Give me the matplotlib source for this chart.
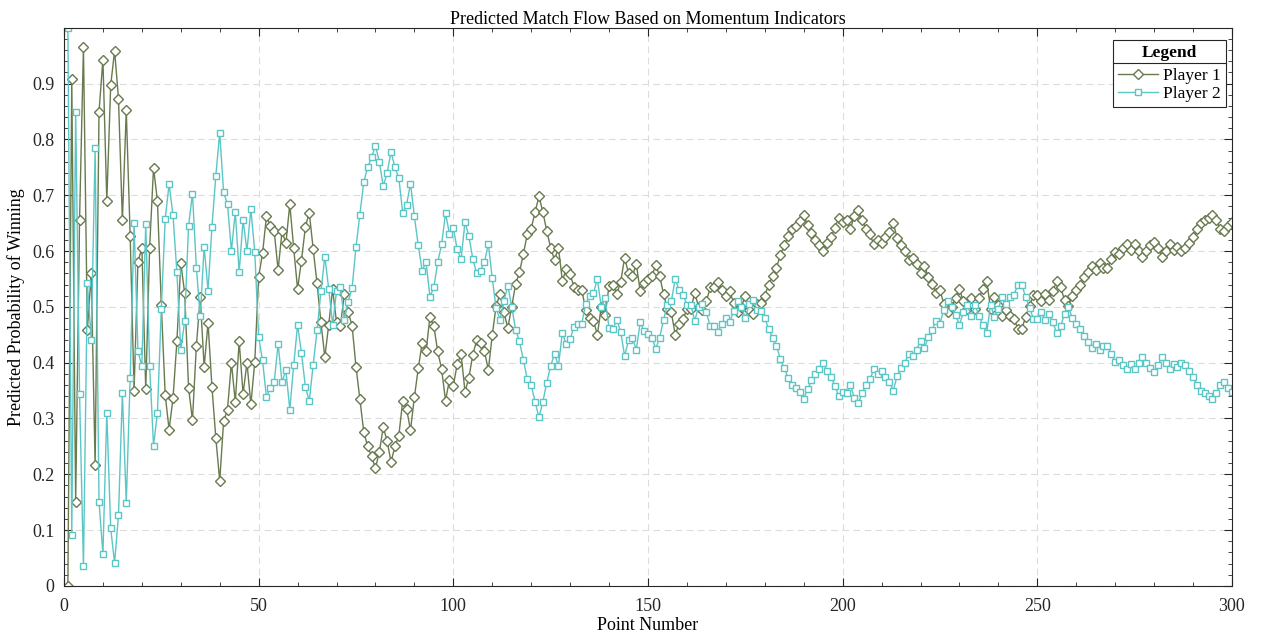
import numpy as np
import matplotlib
matplotlib.use('Agg')
import matplotlib.pyplot as plt
from matplotlib.ticker import MultipleLocator
from matplotlib.lines import Line2D

plt.rcParams['font.family'] = ['Liberation Serif', 'DejaVu Serif']

title = 'Predicted Match Flow Based on Momentum Indicators'
x_label = 'Point Number'
y_label = 'Predicted Probability of Winning'
series_names = ['Player 1', 'Player 2']

# point numbers 1..300
points = np.arange(1, 301)

player1 = [
    0.000, 0.909, 0.150, 0.656, 0.965, 0.458, 0.560, 0.216, 0.850, 0.943,
    0.690, 0.897, 0.959, 0.873, 0.655, 0.852, 0.627, 0.350, 0.580, 0.606,
    0.352, 0.606, 0.749, 0.690, 0.503, 0.342, 0.280, 0.336, 0.438, 0.578,
    0.525, 0.355, 0.297, 0.430, 0.517, 0.392, 0.471, 0.357, 0.265, 0.188,
    0.295, 0.316, 0.400, 0.330, 0.438, 0.344, 0.400, 0.325, 0.401, 0.554,
    0.596, 0.662, 0.645, 0.635, 0.566, 0.635, 0.614, 0.684, 0.605, 0.532,
    0.583, 0.643, 0.669, 0.604, 0.542, 0.472, 0.410, 0.468, 0.532, 0.472,
    0.465, 0.523, 0.491, 0.466, 0.393, 0.335, 0.276, 0.250, 0.232, 0.211,
    0.240, 0.284, 0.260, 0.222, 0.250, 0.269, 0.331, 0.317, 0.279, 0.338,
    0.390, 0.435, 0.420, 0.482, 0.465, 0.420, 0.388, 0.332, 0.369, 0.359,
    0.397, 0.415, 0.348, 0.373, 0.414, 0.440, 0.435, 0.420, 0.387, 0.449,
    0.502, 0.523, 0.490, 0.462, 0.500, 0.541, 0.562, 0.595, 0.630, 0.640,
    0.670, 0.698, 0.670, 0.636, 0.606, 0.584, 0.606, 0.547, 0.567, 0.558,
    0.536, 0.530, 0.530, 0.495, 0.480, 0.475, 0.450, 0.500, 0.485, 0.538,
    0.540, 0.523, 0.545, 0.588, 0.560, 0.555, 0.577, 0.528, 0.543, 0.549,
    0.555, 0.575, 0.555, 0.523, 0.496, 0.490, 0.450, 0.470, 0.478, 0.496,
    0.496, 0.525, 0.500, 0.495, 0.510, 0.535, 0.535, 0.545, 0.530, 0.520,
    0.528, 0.507, 0.490, 0.500, 0.520, 0.495, 0.487, 0.505, 0.507, 0.520,
    0.540, 0.555, 0.570, 0.593, 0.610, 0.627, 0.640, 0.645, 0.653, 0.665,
    0.647, 0.632, 0.620, 0.611, 0.600, 0.615, 0.625, 0.641, 0.660, 0.652,
    0.655, 0.640, 0.663, 0.673, 0.655, 0.640, 0.630, 0.612, 0.620, 0.615,
    0.625, 0.634, 0.650, 0.624, 0.610, 0.600, 0.584, 0.588, 0.577, 0.561,
    0.574, 0.554, 0.541, 0.525, 0.530, 0.505, 0.490, 0.500, 0.515, 0.532,
    0.510, 0.496, 0.516, 0.496, 0.516, 0.532, 0.547, 0.496, 0.518, 0.503,
    0.483, 0.495, 0.483, 0.478, 0.461, 0.460, 0.482, 0.502, 0.521, 0.522,
    0.510, 0.523, 0.513, 0.528, 0.547, 0.535, 0.512, 0.501, 0.520, 0.530,
    0.540, 0.553, 0.563, 0.574, 0.566, 0.578, 0.570, 0.570, 0.585, 0.598,
    0.595, 0.605, 0.612, 0.602, 0.612, 0.600, 0.590, 0.600, 0.610, 0.617,
    0.605, 0.590, 0.600, 0.612, 0.602, 0.607, 0.600, 0.605, 0.615, 0.625,
    0.640, 0.650, 0.655, 0.660, 0.665, 0.655, 0.640, 0.635, 0.645, 0.652,
]

player2 = [
    1.000, 0.091, 0.850, 0.344, 0.035, 0.542, 0.440, 0.784, 0.150, 0.057,
    0.310, 0.103, 0.041, 0.127, 0.345, 0.148, 0.373, 0.650, 0.420, 0.394,
    0.648, 0.394, 0.251, 0.310, 0.497, 0.658, 0.720, 0.664, 0.562, 0.422,
    0.475, 0.645, 0.703, 0.570, 0.483, 0.608, 0.529, 0.643, 0.735, 0.812,
    0.705, 0.684, 0.600, 0.670, 0.562, 0.656, 0.600, 0.675, 0.599, 0.446,
    0.404, 0.338, 0.355, 0.365, 0.434, 0.365, 0.386, 0.316, 0.395, 0.468,
    0.417, 0.357, 0.331, 0.396, 0.458, 0.528, 0.590, 0.532, 0.468, 0.528,
    0.535, 0.477, 0.509, 0.534, 0.607, 0.665, 0.724, 0.750, 0.768, 0.789,
    0.760, 0.716, 0.740, 0.778, 0.750, 0.731, 0.669, 0.683, 0.721, 0.662,
    0.610, 0.565, 0.580, 0.518, 0.535, 0.580, 0.612, 0.668, 0.631, 0.641,
    0.603, 0.585, 0.652, 0.627, 0.586, 0.560, 0.565, 0.580, 0.613, 0.551,
    0.498, 0.477, 0.510, 0.538, 0.500, 0.459, 0.438, 0.405, 0.370, 0.360,
    0.330, 0.302, 0.330, 0.364, 0.394, 0.416, 0.394, 0.453, 0.433, 0.442,
    0.464, 0.470, 0.470, 0.505, 0.520, 0.525, 0.550, 0.500, 0.515, 0.462,
    0.460, 0.477, 0.455, 0.412, 0.440, 0.445, 0.423, 0.472, 0.457, 0.451,
    0.445, 0.425, 0.445, 0.477, 0.504, 0.510, 0.550, 0.530, 0.522, 0.504,
    0.504, 0.475, 0.500, 0.505, 0.490, 0.465, 0.465, 0.455, 0.470, 0.480,
    0.472, 0.493, 0.510, 0.500, 0.480, 0.505, 0.513, 0.495, 0.493, 0.480,
    0.460, 0.445, 0.430, 0.407, 0.390, 0.373, 0.360, 0.355, 0.347, 0.335,
    0.353, 0.368, 0.380, 0.389, 0.400, 0.385, 0.375, 0.359, 0.340, 0.348,
    0.345, 0.360, 0.337, 0.327, 0.345, 0.360, 0.370, 0.388, 0.380, 0.385,
    0.375, 0.366, 0.350, 0.376, 0.390, 0.400, 0.416, 0.412, 0.423, 0.439,
    0.426, 0.446, 0.459, 0.475, 0.470, 0.495, 0.510, 0.500, 0.485, 0.468,
    0.490, 0.504, 0.484, 0.504, 0.484, 0.468, 0.453, 0.504, 0.482, 0.497,
    0.517, 0.505, 0.517, 0.522, 0.539, 0.540, 0.518, 0.498, 0.479, 0.478,
    0.490, 0.477, 0.487, 0.472, 0.453, 0.465, 0.488, 0.499, 0.480, 0.470,
    0.460, 0.447, 0.437, 0.426, 0.434, 0.422, 0.430, 0.430, 0.415, 0.402,
    0.405, 0.395, 0.388, 0.398, 0.388, 0.400, 0.410, 0.400, 0.390, 0.383,
    0.395, 0.410, 0.400, 0.388, 0.398, 0.393, 0.400, 0.395, 0.385, 0.375,
    0.360, 0.350, 0.345, 0.340, 0.335, 0.345, 0.360, 0.365, 0.355, 0.348,
]

col1 = '#687a4e'
col2 = '#5cc6c6'

fig = plt.figure(figsize=(12.62, 6.32), dpi=100)
ax = fig.add_axes([0.0507, 0.073, 0.9255, 0.883])

ax.plot(points, player1, '-', color=col1, lw=1.0, marker='D', ms=5,
        mfc='white', mec=col1, mew=1.0, label=series_names[0])
ax.plot(points, player2, '-', color=col2, lw=1.0, marker='s', ms=4.5,
        mfc='white', mec=col2, mew=1.0, label=series_names[1])

ax.set_xlim(0, 300)
ax.set_ylim(0, 1.0)
ax.set_yticks(np.arange(0, 1.0, 0.1))
ax.set_yticklabels(['0'] + ['%.1f' % v for v in np.arange(0.1, 0.95, 0.1)])
ax.xaxis.set_major_locator(MultipleLocator(50))
ax.xaxis.set_minor_locator(MultipleLocator(10))
ax.yaxis.set_minor_locator(MultipleLocator(0.02))
ax.tick_params(which='both', direction='in', top=True, right=True,
               labelsize=13, colors='#262626')
ax.tick_params(axis='x', which='major', pad=9)
ax.tick_params(axis='y', which='major', pad=7)
ax.tick_params(which='major', length=6)
ax.tick_params(which='minor', length=3)
for s in ax.spines.values():
    s.set_color('#262626')
    s.set_linewidth(0.8)
ax.grid(True, which='major', ls=(0, (6, 4)), color='#dcdcdc', lw=0.8)
ax.set_axisbelow(True)

ax.set_title(title, fontsize=13, pad=2)
ax.set_xlabel(x_label, fontsize=13, labelpad=1)
ax.set_ylabel(y_label, fontsize=13, labelpad=5)

leg = ax.legend(loc='upper right', bbox_to_anchor=(0.995, 0.979),
                borderaxespad=0, title='Legend', fontsize=12.5,
                title_fontproperties={'weight': 'bold', 'size': 12.5},
                fancybox=False, framealpha=1, edgecolor='#262626',
                handlelength=2.3, handletextpad=0.3, labelspacing=0.1,
                borderpad=0.3)
leg.get_frame().set_linewidth(0.8)
# a little more room between the title and the entries
leg._legend_box.sep = 5

# separator line under the legend title
fig.canvas.draw()
fb = leg.get_frame().get_window_extent()
tb = leg.get_title().get_window_extent()
inv = fig.transFigure.inverted()
y_sep = tb.y0 - 2
(x0, ys), (x1, _) = inv.transform([(fb.x0, y_sep), (fb.x1, y_sep)])
fig.add_artist(Line2D([x0, x1], [ys, ys], color='#262626', lw=0.8))

fig.savefig('out.png', dpi=100)
